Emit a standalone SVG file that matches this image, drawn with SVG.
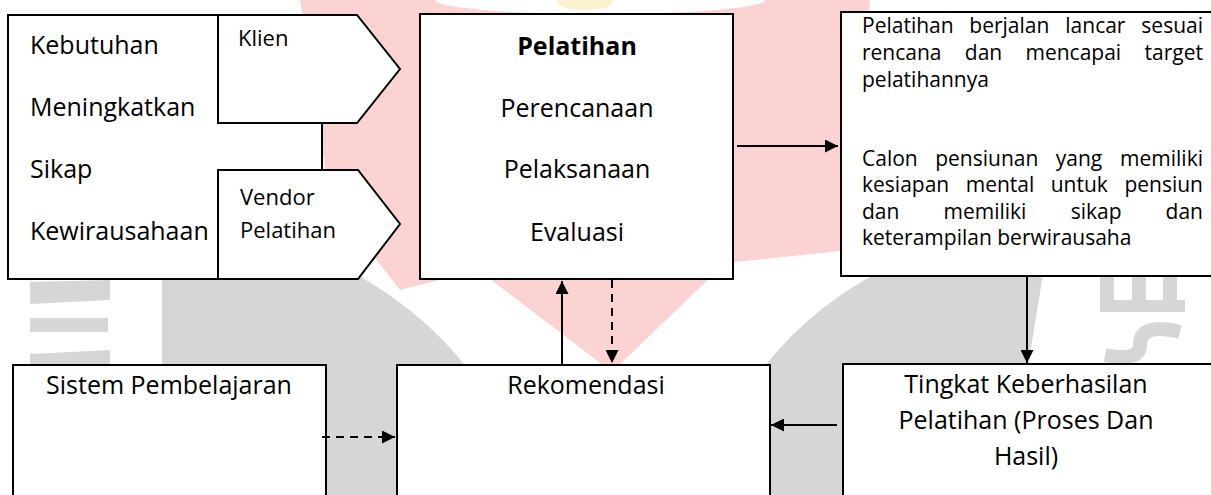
<svg xmlns="http://www.w3.org/2000/svg" width="1211" height="495" viewBox="0 0 1211 495">
<style>
.box{fill:#fff;stroke:#000;stroke-width:2}
.t{font-family:"Open Sans","Liberation Sans",sans-serif;font-size:25px;fill:#000}
.s{font-size:22px}
.r{font-size:21px}
.b{font-weight:bold}
.c{stroke:#000;stroke-width:2;fill:none}
.d{stroke-dasharray:8 6}
.wg{fill:#d6d6d6}
.wp{fill:#fbd3d3}
</style>
<defs>
<marker id="ah" viewBox="0 0 10 10" refX="10" refY="5" markerWidth="15" markerHeight="13" markerUnits="userSpaceOnUse" orient="auto">
<path d="M0,0 L10,5 L0,10 Z" fill="#000"/>
</marker>
</defs>
<rect width="1211" height="495" fill="#fff"/>
<g id="watermark">
<path class="wp" d="M300,0 H870 L850,250 L735,262 L718,270 L612,372 L478,270 L400,290 L330,200 Z"/>
<ellipse cx="600" cy="0" rx="165" ry="14" fill="#fff"/>
<ellipse cx="585" cy="2" rx="28" ry="8" fill="#fbf1cf"/>
<path class="wg" d="M162,262 L333,262 Q420,305 470,372 L470,495 L162,495 Z"/>
<path class="wg" d="M900,262 L1045,262 L1027,372 L1022,495 L760,495 L760,372 Q815,300 900,262 Z"/>
<path class="wg" d="M30,282 L110,280 L110,300 L30,304 Z"/>
<path class="wg" d="M30,318 L108,318 L108,332 L30,332 Z"/>
<path class="wg" d="M30,354 L110,350 L110,366 L30,366 Z"/>
<path class="wg" d="M1100,270 H1114 V302 H1100 Z M1132,270 H1146 V300 H1132 Z M1163,270 H1177 V300 H1163 Z M1100,300 H1185 V312 H1100 Z"/>
<path d="M1180,332 Q1140,322 1140,345 Q1140,362 1105,355" fill="none" stroke="#d6d6d6" stroke-width="14"/>
</g>
<g id="kebutuhan">
<rect class="box" x="8" y="15" width="314" height="264"/>
<text class="t" x="30" y="54">Kebutuhan</text>
<text class="t" x="30" y="116">Meningkatkan</text>
<text class="t" x="30" y="178">Sikap</text>
<text class="t" x="30" y="240">Kewirausahaan</text>
</g>
<g id="klien">
<path class="box" d="M218,15 H357 L400,69 L357,123 H218 Z"/>
<text class="t s" x="238" y="46">Klien</text>
</g>
<g id="vendor">
<path class="box" d="M218,170 H358 L400,224 L358,279 H218 Z"/>
<text class="t s" x="240" y="205">Vendor</text>
<text class="t s" x="240" y="238">Pelatihan</text>
</g>
<g id="pelatihan">
<rect class="box" x="420" y="14" width="313" height="265"/>
<text class="t b" x="577" y="55" text-anchor="middle">Pelatihan</text>
<text class="t" x="577" y="117" text-anchor="middle">Perencanaan</text>
<text class="t" x="577" y="178" text-anchor="middle">Pelaksanaan</text>
<text class="t" x="577" y="241" text-anchor="middle">Evaluasi</text>
</g>
<g id="hasil">
<rect class="box" x="841" y="12" width="380" height="264"/>
<text class="t r" y="33"><tspan x="862">Pelatihan</tspan><tspan x="969.3">berjalan</tspan><tspan x="1065.3">lancar</tspan><tspan x="1203" text-anchor="end">sesuai</tspan></text>
<text class="t r" y="60"><tspan x="862">rencana</tspan><tspan x="964.8">dan</tspan><tspan x="1025.5">mencapai</tspan><tspan x="1203" text-anchor="end">target</tspan></text>
<text class="t r" x="862" y="87">pelatihannya</text>
<text class="t r" y="166"><tspan x="862">Calon</tspan><tspan x="935.2">pensiunan</tspan><tspan x="1055.8">yang</tspan><tspan x="1203" text-anchor="end">memiliki</tspan></text>
<text class="t r" y="192"><tspan x="862">kesiapan</tspan><tspan x="965.7">mental</tspan><tspan x="1050.7">untuk</tspan><tspan x="1203" text-anchor="end">pensiun</tspan></text>
<text class="t r" y="219"><tspan x="862">dan</tspan><tspan x="943.5">memiliki</tspan><tspan x="1070.7">sikap</tspan><tspan x="1203" text-anchor="end">dan</tspan></text>
<text class="t r" x="862" y="245">keterampilan berwirausaha</text>
</g>
<g id="sistem">
<rect class="box" x="13" y="365" width="313" height="140"/>
<text class="t" x="169" y="394" text-anchor="middle">Sistem Pembelajaran</text>
</g>
<g id="rekomendasi">
<rect class="box" x="397" y="365" width="373" height="140"/>
<text class="t" x="586" y="394" text-anchor="middle">Rekomendasi</text>
</g>
<g id="tingkat">
<rect class="box" x="843" y="364" width="380" height="140"/>
<text class="t" x="1026" y="393" text-anchor="middle">Tingkat Keberhasilan</text>
<text class="t" x="1026" y="429" text-anchor="middle">Pelatihan (Proses Dan</text>
<text class="t" x="1026" y="465" text-anchor="middle">Hasil)</text>
</g>
<g id="connectors">
<line class="c" x1="737" y1="146" x2="838" y2="146" marker-end="url(#ah)"/>
<line class="c" x1="1027" y1="277" x2="1027" y2="363" marker-end="url(#ah)"/>
<line class="c" x1="837" y1="425" x2="771" y2="425" marker-end="url(#ah)"/>
<line class="c" x1="562" y1="364" x2="562" y2="281" marker-end="url(#ah)"/>
<line class="c d" x1="612" y1="280" x2="612" y2="363" marker-end="url(#ah)"/>
<line class="c d" x1="322" y1="437" x2="395" y2="437" marker-end="url(#ah)"/>
</g>
</svg>
